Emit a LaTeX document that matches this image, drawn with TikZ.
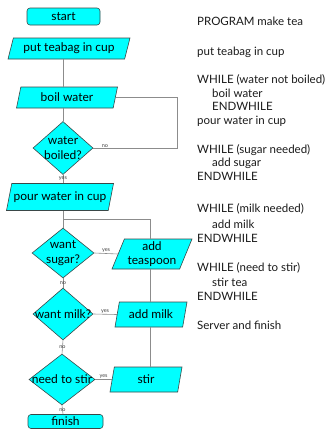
\documentclass[tikz,border=0pt]{standalone}
\usepackage{fontspec}
\setmainfont{Lato}
\usetikzlibrary{shapes.geometric}
\definecolor{boxfill}{HTML}{00FFFF}
\definecolor{boxline}{HTML}{3A4848}
\definecolor{flowline}{HTML}{8C8C8C}
\definecolor{codecol}{HTML}{1A1A1A}
\begin{document}
\begin{tikzpicture}[x=1pt,y=-1pt,
  shapebase/.style={draw=boxline, fill=boxfill, line width=0.6pt, inner sep=0pt},
  terminal/.style={shapebase, rectangle, rounded corners=3pt},
  iobox/.style={shapebase, trapezium, trapezium left angle=64,
    trapezium right angle=116, trapezium stretches body},
  decision/.style={shapebase, diamond},
  boxtext/.style={font=\fontsize{12}{14.5}\selectfont, align=center, text=black},
  edgetext/.style={font=\fontsize{5.5}{6}\selectfont, text=darkgray, inner sep=0.3pt},
  codetext/.style={font=\fontsize{11.5}{13}\selectfont, anchor=base west, inner sep=0pt, text=codecol},
  flow/.style={draw=flowline, line width=0.6pt}
]
\useasboundingbox (0,0) rectangle (330,429);

% flowchart shapes
\node[terminal, minimum width=73pt, minimum height=17pt, boxtext] (start) at (63.5,16.5) {start};
\node[iobox, minimum width=122pt, minimum height=21pt, boxtext] (teabag) at (69,48.5) {put teabag in cup};
\node[iobox, minimum width=101pt, minimum height=21pt, boxtext] (boil) at (67,97.5) {boil water};
\node[decision, minimum width=60pt, minimum height=53pt,
  label={[boxtext]center:{water\\boiled?}}] (boiled) at (63,148) {};
\node[iobox, minimum width=107pt, minimum height=27pt, boxtext] (pour) at (60,197) {pour water in cup};
\node[decision, minimum width=62pt, minimum height=50pt,
  label={[boxtext]center:{want\\sugar?}}] (sugarq) at (63,253) {};
\node[iobox, minimum width=80pt, minimum height=30pt, boxtext] (teaspoon) at (152,254) {add\\teaspoon};
\node[decision, minimum width=60pt, minimum height=52pt,
  label={[boxtext]center:{want milk?}}] (milkq) at (63,314) {};
\node[iobox, minimum width=72pt, minimum height=25pt, boxtext] (addmilk) at (151,314.5) {add milk};
\node[decision, minimum width=66pt, minimum height=51pt,
  label={[boxtext]center:{need to stir}}] (stirq) at (62,379.5) {};
\node[iobox, minimum width=72pt, minimum height=25pt, boxtext] (stir) at (146,379.5) {stir};
\node[terminal, minimum width=75pt, minimum height=14pt, boxtext] (finish) at (65.5,421.5) {finish};

% guide coordinates for the vertical runs and loop corners
\coordinate (spine) at (63,0);
\coordinate (rspine) at (150,0);
\coordinate (boilloop) at (177,0);
\coordinate (sugarjoin) at (63,219);

% connectors
\draw[flow] (spine |- teabag.south) -- (spine |- boil.north);
\draw[flow] (spine |- boil.south) -- (boiled.north);
\draw[flow] (boil.east) -- (boil.east -| boilloop) -- (boilloop |- boiled.east)
  -- node[edgetext, anchor=south, pos=0.86] {no} (boiled.east);
\draw[flow] (boiled.south) -- node[edgetext] {yes} (spine |- pour.north);
\draw[flow] (spine |- pour.south) -- (sugarq.north);
\draw[flow] (teaspoon.north -| rspine) |- (sugarjoin);
\draw[flow] (sugarq.east) -- node[edgetext, anchor=south] {yes} (teaspoon.west);
\draw[flow] (sugarq.south) -- node[edgetext] {no} (milkq.north);
\draw[flow] (rspine |- teaspoon.south) -- (rspine |- addmilk.north);
\draw[flow] (milkq.east) -- node[edgetext, anchor=south] {yes} (addmilk.west);
\draw[flow] (milkq.south) -- node[edgetext] {no} (stirq.north);
\draw[flow] (rspine |- addmilk.south) -- (rspine |- stir.north);
\draw[flow] (stirq.east) -- node[edgetext, anchor=south] {yes} (stir.west);
\draw[flow] (stirq.south) -- node[edgetext] {no} (spine |- finish.north);

% pseudocode listing
\node[codetext] (c1)  at (197,25.5)  {PROGRAM make tea};
\node[codetext] (c2)  at (197,55)    {put teabag in cup};
\node[codetext] (c3)  at (197,83.5)  {WHILE (water not boiled)};
\node[codetext] (c4)  at (212,97)    {boil water};
\node[codetext] (c5)  at (212,110.5) {ENDWHILE};
\node[codetext] (c6)  at (197,124)   {pour water in cup};
\node[codetext] (c7)  at (197,153.5) {WHILE (sugar needed)};
\node[codetext] (c8)  at (212,166.5) {add sugar};
\node[codetext] (c9)  at (197,180.5) {ENDWHILE};
\node[codetext] (c10) at (197,212.5) {WHILE (milk needed)};
\node[codetext] (c11) at (212,228)   {add milk};
\node[codetext] (c12) at (197,242.5) {ENDWHILE};
\node[codetext] (c13) at (197,271.5) {WHILE (need to stir)};
\node[codetext] (c14) at (212,286.5) {stir tea};
\node[codetext] (c15) at (197,300.5) {ENDWHILE};
\node[codetext] (c16) at (197,329.5) {Server and finish};
\end{tikzpicture}
\end{document}
